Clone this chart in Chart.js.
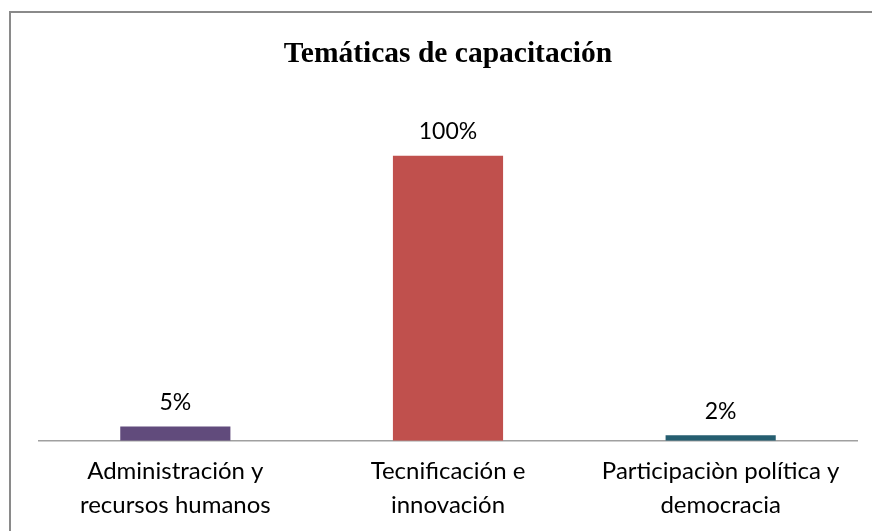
<!DOCTYPE html>
<html lang="es">
<head>
  <meta charset="UTF-8">
  <title>Temáticas de capacitación</title>
  <script src="https://cdn.jsdelivr.net/npm/chart.js"></script>
  <style>
    body {
      margin: 0;
      background: #ffffff;
      width: 872px;
      height: 531px;
      overflow: hidden;
      position: relative;
    }
    .marco {
      position: absolute;
      left: 9px;
      top: 11px;
      width: 863px;
      height: 520px;
      border-left: 2px solid #8a8a8a;
      border-top: 2px solid #8a8a8a;
    }
    canvas { display: block; }
  </style>
</head>
<body>
  <div class="marco">
    <canvas id="chart" width="861" height="518"></canvas>
  </div>

  <script>
  const categorias = [
    ['Administración y', 'recursos humanos'],
    ['Tecnificación e', 'innovación'],
    ['Participaciòn política y', 'democracia']
  ];
  const valores = [5, 100, 2];
  const etiquetas = ['5%', '100%', '2%'];
  const colores = ['#614B7C', '#C0504D', '#255E70'];

  // etiquetas de datos encima de cada barra
  const etiquetasPlugin = {
    id: 'etiquetas',
    afterDatasetsDraw(chart) {
      const ctx = chart.ctx;
      const meta = chart.getDatasetMeta(0);
      ctx.save();
      ctx.font = '23px Lato';
      ctx.fillStyle = '#000';
      ctx.textAlign = 'center';
      ctx.textBaseline = 'bottom';
      meta.data.forEach((bar, i) => {
        ctx.fillText(etiquetas[i], bar.x, bar.y - 12);
      });
      ctx.restore();
    }
  };

  const ctx = document.getElementById('chart').getContext('2d');
  new Chart(ctx, {
    type: 'bar',
    data: {
      labels: categorias,
      datasets: [{
        data: valores,
        backgroundColor: colores,
        categoryPercentage: 1,
        barPercentage: 0.404
      }]
    },
    options: {
      responsive: false,
      animation: false,
      layout: { padding: { left: 28, right: 15, bottom: -4 } },
      plugins: {
        legend: { display: false },
        tooltip: { enabled: false },
        title: {
          display: true,
          text: 'Temáticas de capacitación',
          color: '#000',
          font: { family: 'Liberation Serif', size: 29.5, weight: 'bold' },
          padding: { top: 24, bottom: 83 }
        }
      },
      scales: {
        x: {
          grid: { display: false, drawTicks: false },
          border: { display: true, color: '#a0a0a0', width: 1.5 },
          ticks: {
            color: '#000',
            font: { family: 'Lato', size: 24, lineHeight: 1.42 },
            padding: 13,
            maxRotation: 0
          }
        },
        y: {
          display: false,
          min: 0,
          max: 100
        }
      }
    },
    plugins: [etiquetasPlugin]
  });
  </script>
</body>
</html>
